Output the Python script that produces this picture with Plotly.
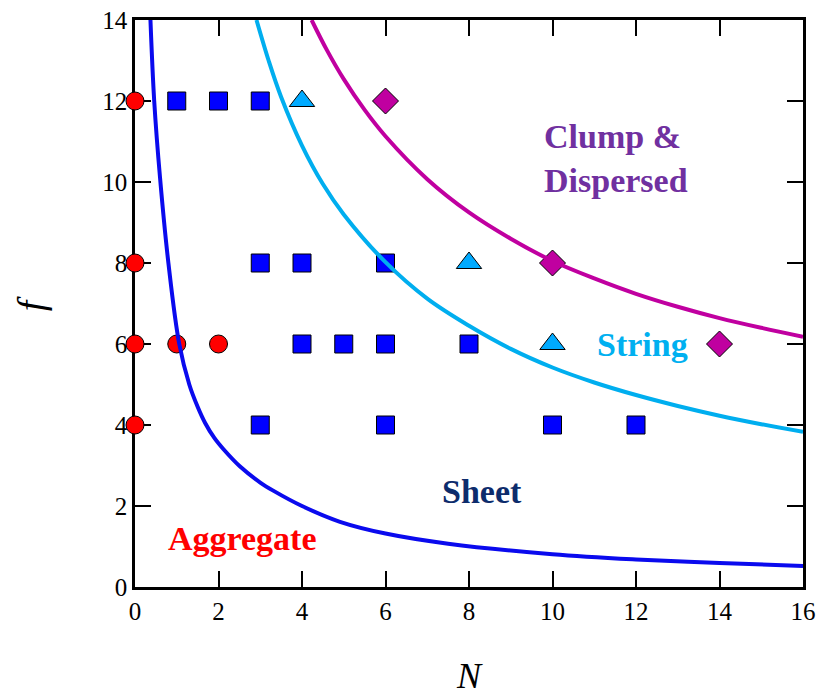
import plotly.graph_objects as go

# ---- data ----
agg_N = [0, 0, 0, 0, 1, 2]
agg_f = [12, 8, 6, 4, 6, 6]

sheet_N = [1, 2, 3, 3, 4, 6, 4, 5, 6, 8, 3, 6, 10, 12]
sheet_f = [12, 12, 12, 8, 8, 8, 6, 6, 6, 6, 4, 4, 4, 4]

string_N = [4, 8, 10]
string_f = [12, 8, 6]

clump_N = [6, 10, 14]
clump_f = [12, 8, 6]

# boundary curves
b1_N = [0.37, 0.46, 0.6, 0.8, 1.06, 1.3, 1.5, 1.68, 1.9, 2.12, 2.51, 3.0, 3.31, 4.0, 4.91,
        6.0, 7.5, 10.0, 12.0, 14.0, 16.0]
b1_f = [14.0, 12.0, 10.1, 8.0, 6.0, 5.0, 4.45, 4.05, 3.68, 3.4, 2.98, 2.58, 2.38, 2.0, 1.61,
        1.32, 1.07, 0.81, 0.68, 0.59, 0.52]

b2_N = [2.91, 3.2, 3.5, 4.0, 4.5, 5.0, 6.0, 7.0, 8.0, 9.0, 10.0, 11.0, 12.0, 13.0, 14.0, 15.0, 16.0]
b2_f = [14.0, 13.0, 12.1, 10.9, 9.95, 9.2, 8.02, 7.12, 6.45, 5.88, 5.42, 5.05, 4.74, 4.47, 4.23, 4.02, 3.83]

b3_N = [4.23, 4.6, 5.0, 5.5, 6.0, 7.0, 8.0, 9.0, 10.0, 11.0, 12.0, 13.0, 14.0, 15.0, 16.0]
b3_f = [14.0, 13.25, 12.54, 11.78, 11.13, 10.07, 9.25, 8.6, 8.05, 7.62, 7.24, 6.92, 6.64, 6.4, 6.18]

x_ticks = [0, 2, 4, 6, 8, 10, 12, 14, 16]
y_ticks = [0, 2, 4, 6, 8, 10, 12, 14]

fig = go.Figure()

mk_line = dict(color="black", width=1)
fig.add_trace(go.Scatter(x=agg_N, y=agg_f, mode="markers", cliponaxis=False,
                         marker=dict(symbol="circle", size=18, color="#FF0000", line=mk_line)))
fig.add_trace(go.Scatter(x=sheet_N, y=sheet_f, mode="markers", cliponaxis=False,
                         marker=dict(symbol="square", size=18, color="#0000FF", line=mk_line)))
fig.add_trace(go.Scatter(x=string_N, y=string_f, mode="markers", cliponaxis=False,
                         marker=dict(symbol="triangle-up", size=22, color="#00AAFF", line=mk_line)))
fig.add_trace(go.Scatter(x=clump_N, y=clump_f, mode="markers", cliponaxis=False,
                         marker=dict(symbol="diamond", size=20, color="#C000A0", line=mk_line)))

fig.add_trace(go.Scatter(x=b1_N, y=b1_f, mode="lines",
                         line=dict(color="#0A0AEE", width=4, shape="spline")))
fig.add_trace(go.Scatter(x=b2_N, y=b2_f, mode="lines",
                         line=dict(color="#00AEEF", width=4, shape="spline")))
fig.add_trace(go.Scatter(x=b3_N, y=b3_f, mode="lines",
                         line=dict(color="#C000A0", width=4, shape="spline")))

lab_font = "Liberation Serif"
annots = [
    dict(x=2.57, y=1.2, text="<b>Aggregate</b>", color="#FF0000", xanchor="center"),
    dict(x=8.3, y=2.37, text="<b>Sheet</b>", color="#0D2C6C", xanchor="center"),
    dict(x=12.15, y=6.0, text="<b>String</b>", color="#00B0F0", xanchor="center"),
    dict(x=9.74, y=10.57, text="<b>Clump &amp;<br>Dispersed</b>", color="#7030A0", xanchor="left"),
]
for a in annots:
    fig.add_annotation(x=a["x"], y=a["y"], xref="x", yref="y", text=a["text"],
                       showarrow=False, xanchor=a["xanchor"], yanchor="middle", align="left",
                       font=dict(family=lab_font, size=34, color=a["color"]))

fig.add_annotation(x=0.5, y=-0.195, xref="paper", yref="paper", text="<i>N</i>",
                   showarrow=False, xanchor="center", yanchor="bottom",
                   font=dict(family=lab_font, size=36, color="black"))
fig.add_annotation(x=-0.156, y=0.5, xref="paper", yref="paper", text="<i>f</i>",
                   showarrow=False, xanchor="center", yanchor="middle", textangle=-90,
                   font=dict(family=lab_font, size=38, color="black"))

axis_common = dict(showgrid=False, zeroline=False, showline=True, linecolor="black",
                   linewidth=2.5, mirror="ticks", ticks="inside", ticklen=16, tickwidth=2,
                   tickcolor="black", layer="below traces", automargin=False,
                   tickfont=dict(family=lab_font, size=25, color="black"))

fig.update_layout(
    width=821, height=698,
    margin=dict(l=135, r=18, t=20, b=111),
    plot_bgcolor="white", paper_bgcolor="white",
    showlegend=False,
    xaxis=dict(range=[0, 16], tickvals=x_ticks, ticktext=[str(v) for v in x_ticks], **axis_common),
    yaxis=dict(range=[0, 14], tickvals=y_ticks, ticktext=[str(v) for v in y_ticks], **axis_common),
)

fig.write_html("out.html")
